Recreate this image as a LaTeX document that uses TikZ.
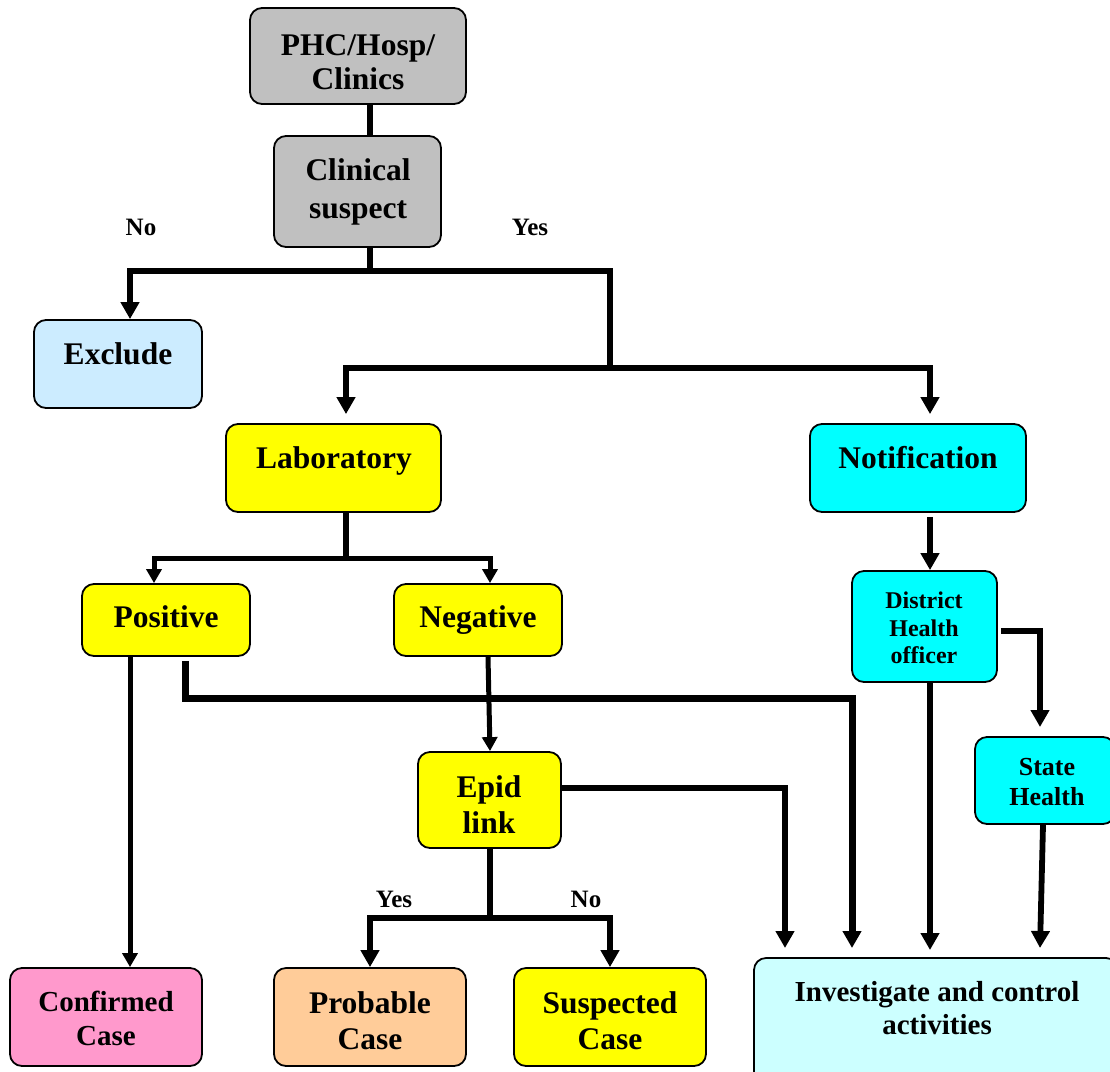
\documentclass[tikz,border=0pt]{standalone}
\usepackage{fontspec}
\setmainfont{Liberation Serif}
\usetikzlibrary{arrows.meta}
\definecolor{cgray}{HTML}{C0C0C0}
\definecolor{cexcl}{HTML}{CCECFF}
\definecolor{cyel}{HTML}{FFFF00}
\definecolor{ccyan}{HTML}{00FFFF}
\definecolor{cpink}{HTML}{FF99CC}
\definecolor{corange}{HTML}{FFCC99}
\definecolor{cinv}{HTML}{CCFFFF}
\begin{document}
\begin{tikzpicture}[x=1pt,y=-1pt,
  box/.style={draw=black, line width=1.8pt, rounded corners=12pt, inner sep=0pt},
  conn/.style={line width=5.8pt},
  arr/.style={conn, -{Triangle[width=18pt,length=17pt]}},
  sarr/.style={line width=5pt, -{Triangle[width=15pt,length=14pt]}},
  warr/.style={line width=7pt, -{Triangle[width=18pt,length=17pt]}},
  txt/.style={font=\bfseries\fontsize{31.5}{36}\selectfont, align=center, inner sep=0pt},
  lbl/.style={font=\bfseries\fontsize{25}{28}\selectfont, inner sep=0pt}]
\useasboundingbox (0,0) rectangle (1110,1071);
% boxes
\node[box, fill=cgray, minimum width=216pt, minimum height=96pt] (phc) at (358,56) {};
\node[box, fill=cgray, minimum width=167pt, minimum height=111pt] (clin) at (357.5,191.5) {};
\node[box, fill=cexcl, minimum width=168pt, minimum height=88pt] (excl) at (118,364) {};
\node[box, fill=cyel, minimum width=215pt, minimum height=88pt] (lab) at (333.5,468) {};
\node[box, fill=ccyan, minimum width=216pt, minimum height=88pt] (notif) at (918,468) {};
\node[box, fill=cyel, minimum width=168pt, minimum height=72pt] (pos) at (166,620) {};
\node[box, fill=cyel, minimum width=168pt, minimum height=72pt] (neg) at (478,620) {};
\node[box, fill=ccyan, minimum width=145pt, minimum height=111pt] (dist) at (924.5,626.5) {};
\node[box, fill=ccyan, minimum width=140pt, minimum height=87pt] (state) at (1045,780.5) {};
\node[box, fill=cyel, minimum width=143pt, minimum height=96pt] (epid) at (489.5,800) {};
\node[box, fill=cpink, minimum width=192pt, minimum height=98pt] (conf) at (106,1017) {};
\node[box, fill=corange, minimum width=192pt, minimum height=98pt] (prob) at (370,1017) {};
\node[box, fill=cyel, minimum width=192pt, minimum height=98pt] (susp) at (610,1017) {};
\node[box, fill=cinv, minimum width=364pt, minimum height=132pt] (inv) at (936,1024) {};
% texts
\node[txt, font=\bfseries\fontsize{31.5}{34}\selectfont] (tphc) at (358,62) {PHC/Hosp/\\Clinics};
\node[txt, font=\bfseries\fontsize{31.5}{38}\selectfont] (tclin) at (358,192) {Clinical\\suspect};
\node[txt] (texcl) at (118,354) {Exclude};
\node[txt] (tlab) at (334,461) {Laboratory};
\node[txt] (tnotif) at (918,458) {Notification};
\node[txt] (tpos) at (166,617) {Positive};
\node[txt] (tneg) at (478,620) {Negative};
\node[txt, font=\bfseries\fontsize{24}{27.5}\selectfont] (tdist) at (924,628) {District\\Health\\officer};
\node[txt, font=\bfseries\fontsize{26}{30}\selectfont] (tstate) at (1047,782) {State\\Health};
\node[txt] (tepid) at (489,805) {Epid\\link};
\node[txt, font=\bfseries\fontsize{29}{34}\selectfont] (tconf) at (106,1018) {Confirmed\\Case};
\node[txt] (tprob) at (370,1021) {Probable\\Case};
\node[txt] (tsusp) at (610,1021) {Suspected\\Case};
\node[txt, font=\bfseries\fontsize{29}{33}\selectfont] (tinv) at (937,1008) {Investigate and control\\activities};
% labels
\node[lbl] (lno1) at (141,227) {No};
\node[lbl] (lyes1) at (530,227) {Yes};
\node[lbl] (lyes2) at (394,899) {Yes};
\node[lbl] (lno2) at (586,899) {No};
% junction coordinates
\coordinate (j1) at (370,271);
\coordinate (j2) at (610,368);
\coordinate (j3) at (346,558);
\coordinate (j4) at (852,698);
\coordinate (j5) at (490,918);
\coordinate (ti1) at (785,948);
\coordinate (ti2) at (852,948);
\coordinate (ti3) at (930,950);
\coordinate (ti4) at (1040,948);
\coordinate (ts) at (1040,727);
% connectors
\draw[conn] ([xshift=12pt]phc.south) -- ([xshift=12pt]phc.south |- clin.north);
\draw[conn] ([xshift=12.5pt]clin.south) -- (j1);
\draw[arr] (j1) -| ([xshift=12pt]excl.north);
\draw[conn] (j1) -| (j2);
\draw[arr] (j2) -| ([xshift=12.5pt,yshift=9pt]lab.north);
\draw[arr] (j2) -| ([xshift=12pt,yshift=9pt]notif.north);
\draw[conn] ([xshift=12.5pt]lab.south) -- (j3);
\draw[sarr] (j3) -| ([xshift=-12pt]pos.north);
\draw[sarr] (j3) -| ([xshift=12pt]neg.north);
\draw[arr] ([xshift=12pt,yshift=-4pt]notif.south) -- ([xshift=12pt]notif.south |- dist.north);
\draw[sarr] ([xshift=-36pt]pos.south) -- ([xshift=-36pt]pos.south |- conf.north);
\draw[warr] ([xshift=19pt,yshift=-4pt]pos.south) |- (j4) -- (ti2);
\draw[sarr] ([xshift=10pt]neg.south) -- ([xshift=0.5pt]epid.north);
\draw[arr] ([yshift=12pt]epid.east) -| (ti1);
\draw[conn] ([xshift=0.5pt]epid.south) -- (j5);
\draw[arr] (j5) -| (prob.north);
\draw[arr] (j5) -| (susp.north);
\draw[arr] ([xshift=3pt,yshift=-4.5pt]dist.east) -| (ts);
\draw[arr] ([xshift=5.5pt]dist.south) -- (ti3);
\draw[arr] ([xshift=-2pt]state.south) -- (ti4);
\end{tikzpicture}
\end{document}
